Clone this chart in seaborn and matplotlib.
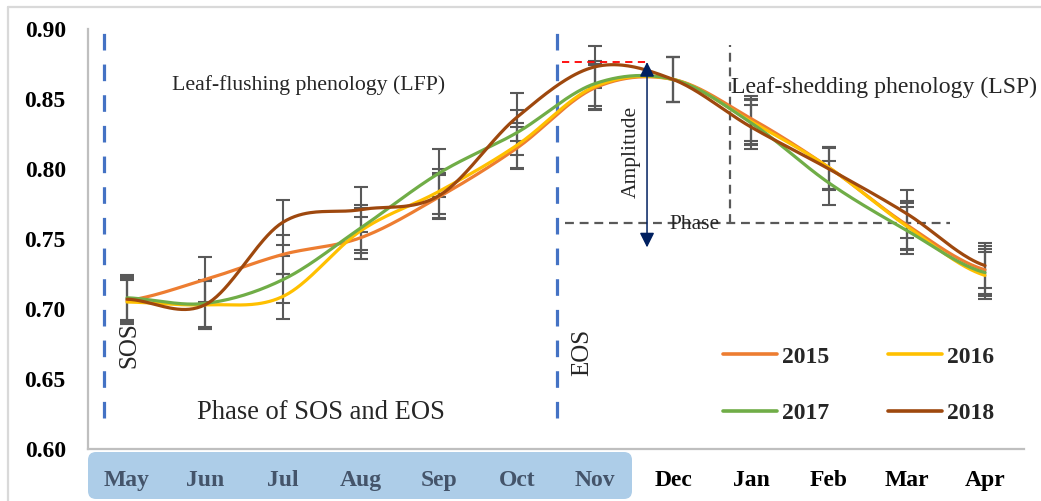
import numpy as np
import pandas as pd
import matplotlib
matplotlib.use("Agg")
import matplotlib.pyplot as plt
import seaborn as sns
from matplotlib.patches import FancyBboxPatch
from matplotlib.lines import Line2D
from matplotlib.transforms import IdentityTransform
from matplotlib.ticker import FixedLocator, FormatStrFormatter

# Monthly mean NDVI (May -> Apr) with standard deviation
months = ["May", "Jun", "Jul", "Aug", "Sep", "Oct", "Nov", "Dec", "Jan", "Feb", "Mar", "Apr"]
years = ["2015", "2016", "2017", "2018"]
ndvi_2015 = [0.706, 0.721, 0.739, 0.751, 0.780, 0.815, 0.858, 0.864, 0.836, 0.801, 0.760, 0.728]
ndvi_2016 = [0.705, 0.703, 0.709, 0.756, 0.784, 0.817, 0.859, 0.864, 0.834, 0.801, 0.759, 0.724]
ndvi_2017 = [0.708, 0.704, 0.721, 0.758, 0.797, 0.826, 0.861, 0.864, 0.833, 0.790, 0.756, 0.726]
ndvi_2018 = [0.707, 0.703, 0.762, 0.771, 0.781, 0.837, 0.873, 0.864, 0.830, 0.800, 0.768, 0.731]
sd_2015 = [0.016, 0.016, 0.014, 0.015, 0.016, 0.015, 0.016, 0.016, 0.016, 0.015, 0.017, 0.017]
sd_2016 = [0.016, 0.017, 0.016, 0.016, 0.016, 0.016, 0.016, 0.016, 0.016, 0.015, 0.017, 0.017]
sd_2017 = [0.016, 0.017, 0.017, 0.016, 0.017, 0.016, 0.016, 0.016, 0.016, 0.016, 0.017, 0.017]
sd_2018 = [0.016, 0.017, 0.016, 0.016, 0.016, 0.017, 0.015, 0.016, 0.016, 0.015, 0.017, 0.016]
y_ticks = [0.60, 0.65, 0.70, 0.75, 0.80, 0.85, 0.90]

series = dict(zip(years, [ndvi_2015, ndvi_2016, ndvi_2017, ndvi_2018]))
errors = dict(zip(years, [sd_2015, sd_2016, sd_2017, sd_2018]))
palette = {"2015": "#ED7D31", "2016": "#FFC000", "2017": "#70AD47", "2018": "#9E480E"}


def smooth_curve(vals, n=40):
    """Bezier smoothing through every point (Catmull-Rom style tangents)."""
    v = np.asarray(vals, dtype=float)
    p = np.concatenate([[v[0]], v, [v[-1]]])
    xs, ys = [], []
    t = np.linspace(0, 1, n, endpoint=False)
    for i in range(len(v) - 1):
        p0, p1, p2, p3 = p[i], p[i + 1], p[i + 2], p[i + 3]
        c1 = p1 + (p2 - p0) / 6.0
        c2 = p2 - (p3 - p1) / 6.0
        b = (1 - t) ** 3 * p1 + 3 * (1 - t) ** 2 * t * c1 + 3 * (1 - t) * t ** 2 * c2 + t ** 3 * p2
        xs.append(i + t)
        ys.append(b)
    xs.append(np.array([len(v) - 1.0]))
    ys.append(np.array([v[-1]]))
    return np.concatenate(xs), np.concatenate(ys)


frames = []
for yr in years:
    sx, sy = smooth_curve(series[yr])
    frames.append(pd.DataFrame({"pos": sx, "ndvi": sy, "year": yr}))
curves = pd.concat(frames, ignore_index=True)

sns.set_theme(style="white")
plt.rcParams["font.family"] = ["Liberation Serif", "DejaVu Serif"]

fig = plt.figure(figsize=(10.41, 5.01), dpi=100)
ax = fig.add_axes([88 / 1041, 1 - 449 / 501, (1024 - 88) / 1041, (449 - 29) / 501])

# error bars beneath the curves
for yr in years:
    ax.errorbar(np.arange(len(months)), series[yr], yerr=errors[yr], fmt="none",
                ecolor="#595959", elinewidth=1.5, capsize=4.8, capthick=1.5, zorder=2)

sns.lineplot(data=curves, x="pos", y="ndvi", hue="year", palette=palette,
             linewidth=2.3, ax=ax, legend=False, zorder=3, sort=False, estimator=None)

ax.set_xlim(-0.5, 11.5)
ax.set_ylim(0.60, 0.90)
ax.set_xlabel("")
ax.set_ylabel("")

# axes styling
for side in ["top", "right"]:
    ax.spines[side].set_visible(False)
for side in ["left", "bottom"]:
    ax.spines[side].set_color("#BFBFBF")
    ax.spines[side].set_linewidth(1.6)

ax.yaxis.set_major_locator(FixedLocator(y_ticks))
ax.yaxis.set_major_formatter(FormatStrFormatter("%.2f"))
ax.tick_params(axis="y", direction="out", length=6, width=1.4, color="#BFBFBF",
               pad=10, labelsize=17)
for lab in ax.get_yticklabels():
    lab.set_fontweight("bold")
    lab.set_color("black")

ax.set_xticks(np.arange(len(months)))
ax.set_xticklabels(months)
ax.set_xticks(np.arange(-0.5, 12, 1.0), minor=True)
ax.tick_params(axis="x", which="major", length=0, pad=15, labelsize=17)
ax.tick_params(axis="x", which="minor", direction="out", length=5, width=1.4, color="#BFBFBF")
for i, lab in enumerate(ax.get_xticklabels()):
    lab.set_fontweight("bold")
    lab.set_color("#44546A" if i <= 6 else "black")

# highlight behind the growing-season month labels
box = FancyBboxPatch((88, 2), 632 - 88, 49 - 2, boxstyle="round,pad=0,rounding_size=8",
                     transform=IdentityTransform(), facecolor="#ADCDE8", edgecolor="none",
                     zorder=0, clip_on=False)
ax.add_patch(box)

# light frame edges
fig.add_artist(Line2D([8 / 1041, 1], [1 - 7 / 501] * 2, transform=fig.transFigure,
                      color="#D9D9D9", lw=1.6))
fig.add_artist(Line2D([8 / 1041] * 2, [0, 1 - 7 / 501], transform=fig.transFigure,
                      color="#D9D9D9", lw=1.6))

# SOS / EOS markers
blue = "#4472C4"
for xpos in (-0.295, 5.513):
    ax.plot([xpos, xpos], [0.622, 0.90], color=blue, lw=2.3, dashes=(5.2, 4.4),
            zorder=1, clip_on=False)
ax.text(0.026, 0.674, "SOS", rotation=90, ha="center", va="center", fontsize=18)
ax.text(5.83, 0.669, "EOS", rotation=90, ha="center", va="center", fontsize=18)

# peak, amplitude and phase guides
ax.plot([5.577, 6.68], [0.8764, 0.8764], color="#FF0000", lw=1.3, dashes=(4, 3), zorder=4)
ax.annotate("", xy=(6.667, 0.8764), xytext=(6.667, 0.744),
            arrowprops=dict(arrowstyle="<|-|>", color="#002060", lw=1.1,
                            mutation_scale=22, shrinkA=0, shrinkB=0), zorder=5)
gray = "#595959"
ax.plot([5.615, 10.55], [0.7614, 0.7614], color=gray, lw=1.6, dashes=(4, 2.6), zorder=1)
ax.plot([7.73, 7.73], [0.7614, 0.8886], color=gray, lw=1.6, dashes=(4, 2.6), zorder=1)

ax.text(6.46, 0.812, "Amplitude", rotation=90, ha="center", va="center", fontsize=15.5)
ax.text(7.28, 0.7607, "Phase", ha="center", va="center", fontsize=15.5, zorder=6)
ax.text(0.577, 0.8564, "Leaf-flushing phenology (LFP)", ha="left", va="baseline", fontsize=15.7)
ax.text(7.744, 0.8543, "Leaf-shedding phenology (LSP)", ha="left", va="baseline", fontsize=17.1)
ax.text(0.897, 0.6214, "Phase of SOS and EOS", ha="left", va="baseline", fontsize=19.1)

# legend, filled row by row
order = ["2015", "2017", "2016", "2018"]
handles = [Line2D([], [], color=palette[yr], lw=2.6) for yr in order]
ax.legend(handles, order, ncol=2, loc="upper left", bbox_to_anchor=(0.678, 0.245),
          frameon=False, prop={"weight": "bold", "size": 17}, handlelength=2.3,
          handletextpad=0.2, columnspacing=2.5, labelspacing=1.48, borderpad=0,
          borderaxespad=0)

fig.savefig("out.png", dpi=100)
